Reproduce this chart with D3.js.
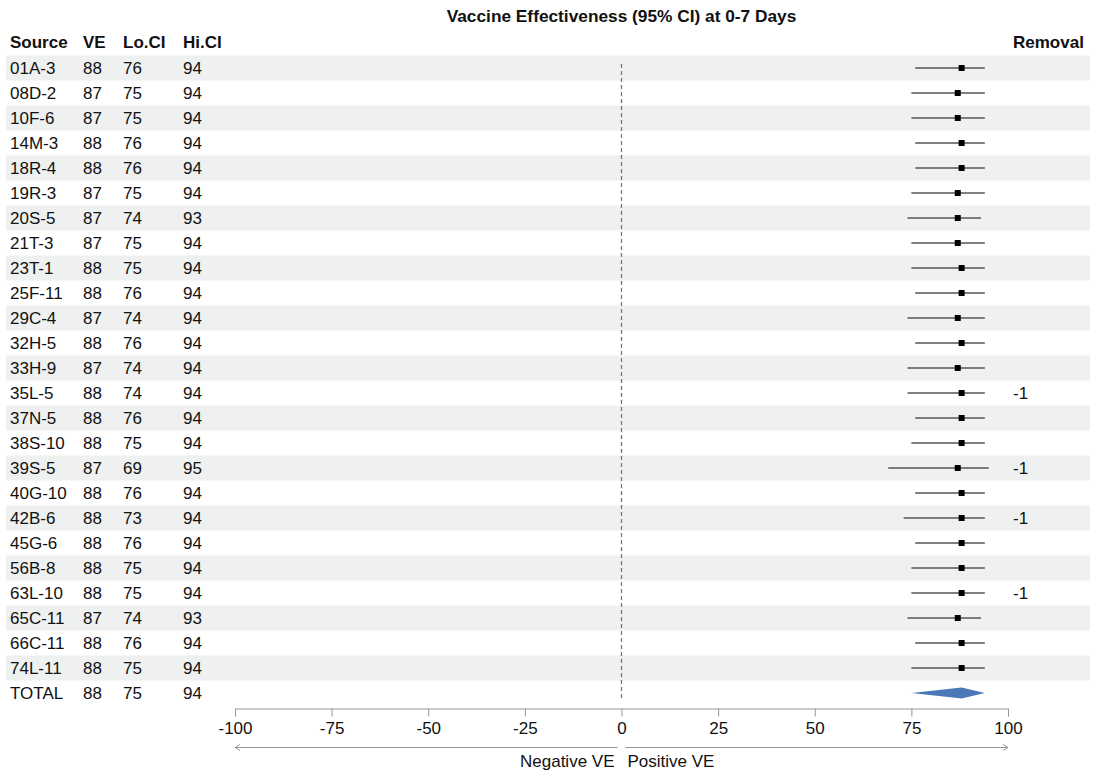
<!DOCTYPE html>
<html>
<head>
<meta charset="utf-8">
<script src="https://cdn.jsdelivr.net/npm/d3@7"></script>
<style>
  html, body { margin: 0; padding: 0; background: #fff; }
  svg text { font-family: "Liberation Sans", Arial, sans-serif; }
</style>
</head>
<body>
<svg id="chart" width="1094" height="775"></svg>
<script>
// Study sources and their vaccine-effectiveness estimates (%)
const sources = ["01A-3","08D-2","10F-6","14M-3","18R-4","19R-3","20S-5","21T-3","23T-1","25F-11",
  "29C-4","32H-5","33H-9","35L-5","37N-5","38S-10","39S-5","40G-10","42B-6","45G-6",
  "56B-8","63L-10","65C-11","66C-11","74L-11"];
const ve   = [88,87,87,88,88,87,87,87,88,88,87,88,87,88,88,88,87,88,88,88,88,88,87,88,88];
const loCI = [76,75,75,76,76,75,74,75,75,76,74,76,74,74,76,75,69,76,73,76,75,75,74,76,75];
const hiCI = [94,94,94,94,94,94,93,94,94,94,94,94,94,94,94,94,95,94,94,94,94,94,93,94,94];
const removal = ["","","","","","","","","","","","","","-1","","","-1","","-1","","","-1","","",""];

// Pooled estimate
const totalLabel = "TOTAL";
const totalVE = 88, totalLo = 75, totalHi = 94;

const xTicks = [-100,-75,-50,-25,0,25,50,75,100];

const svg = d3.select("#chart");
const font = 17;

const x = d3.scaleLinear().domain([-100, 100]).range([235, 1008]);
const rowKeys = sources.concat([totalLabel]);
const y = d3.scaleBand().domain(rowKeys).range([55.5, 705.5]).paddingInner(0);
const yc = k => y(k) + y.bandwidth() / 2;

// Alternating row bands
svg.append("g").selectAll("rect")
  .data(sources.filter((d, i) => i % 2 === 0))
  .join("rect")
  .attr("x", 6).attr("width", 1084)
  .attr("y", d => y(d)).attr("height", y.bandwidth())
  .attr("fill", "#eef1f0");

// Title
svg.append("text")
  .attr("x", x(0)).attr("y", 22)
  .attr("text-anchor", "middle")
  .attr("font-size", 17.3).attr("font-weight", "bold")
  .attr("fill", "#111")
  .text("Vaccine Effectiveness (95% CI) at 0-7 Days");

// Column positions
const colX = {s: 10, ve: 83, lo: 123, hi: 183, rem: 1013};

// Column headers
const cols = [
  {name: "Source", x: colX.s},
  {name: "VE", x: colX.ve},
  {name: "Lo.CI", x: colX.lo},
  {name: "Hi.CI", x: colX.hi},
  {name: "Removal", x: colX.rem}
];
svg.append("g").selectAll("text")
  .data(cols).join("text")
  .attr("x", d => d.x).attr("y", 48)
  .attr("font-size", font).attr("font-weight", "bold")
  .attr("fill", "#111")
  .text(d => d.name);

// Table text
const rows = sources.map((s, i) => ({s, ve: ve[i], lo: loCI[i], hi: hiCI[i], rem: removal[i]}));
rows.push({s: totalLabel, ve: totalVE, lo: totalLo, hi: totalHi, rem: ""});

const tbl = svg.append("g").attr("font-size", font).attr("fill", "#111");
Object.entries(colX).forEach(([k, cx]) => {
  tbl.append("g").selectAll("text")
    .data(rows).join("text")
    .attr("x", cx).attr("y", d => yc(d.s) + 6)
    .text(d => d[k]);
});

// Reference line at zero
svg.append("line")
  .attr("x1", x(0)).attr("x2", x(0))
  .attr("y1", 64).attr("y2", 701)
  .attr("stroke", "#777").attr("stroke-width", 1.3)
  .attr("stroke-dasharray", "4,3");

// Confidence intervals and point estimates
const studies = rows.slice(0, sources.length);
svg.append("g").selectAll("line")
  .data(studies).join("line")
  .attr("x1", d => x(d.lo)).attr("x2", d => x(d.hi))
  .attr("y1", d => yc(d.s)).attr("y2", d => yc(d.s))
  .attr("stroke", "#555").attr("stroke-width", 1.4);

svg.append("g").selectAll("rect")
  .data(studies).join("rect")
  .attr("x", d => x(d.ve) - 3).attr("y", d => yc(d.s) - 3)
  .attr("width", 6).attr("height", 6)
  .attr("fill", "#000");

// Pooled diamond
const ty = yc(totalLabel);
svg.append("path")
  .attr("d", `M${x(totalLo)},${ty} L${x(totalVE)},${ty - 5.5} L${x(totalHi)},${ty} L${x(totalVE)},${ty + 5.5} Z`)
  .attr("fill", "#4a78b8");

// X axis
const axisY = 708.5;
const axis = svg.append("g")
  .attr("transform", `translate(0,${axisY})`)
  .call(d3.axisBottom(x).tickValues(xTicks).tickSize(8).tickPadding(5).tickFormat(d => String(d)));
axis.select(".domain").attr("stroke", "#999");
axis.selectAll(".tick line").attr("stroke", "#999");
axis.selectAll(".tick text")
  .attr("font-size", font).attr("fill", "#111")
  .attr("font-family", "Liberation Sans, Arial, sans-serif");

// Direction arrows
const arrowY = 747.5;
const arrows = svg.append("g").attr("stroke", "#999").attr("fill", "none").attr("stroke-width", 1);
arrows.append("line").attr("x1", x(-100)).attr("x2", x(0) - 4).attr("y1", arrowY).attr("y2", arrowY);
arrows.append("path").attr("d", `M${x(-100) + 5},${arrowY - 3} L${x(-100)},${arrowY} L${x(-100) + 5},${arrowY + 3}`);
arrows.append("line").attr("x1", x(0) + 4).attr("x2", x(100)).attr("y1", arrowY).attr("y2", arrowY);
arrows.append("path").attr("d", `M${x(100) - 5},${arrowY - 3} L${x(100)},${arrowY} L${x(100) - 5},${arrowY + 3}`);

svg.append("text")
  .attr("x", x(0) - 7).attr("y", 767)
  .attr("text-anchor", "end")
  .attr("font-size", font).attr("fill", "#111")
  .text("Negative VE");
svg.append("text")
  .attr("x", x(0) + 6).attr("y", 767)
  .attr("font-size", font).attr("fill", "#111")
  .text("Positive VE");
</script>
</body>
</html>
